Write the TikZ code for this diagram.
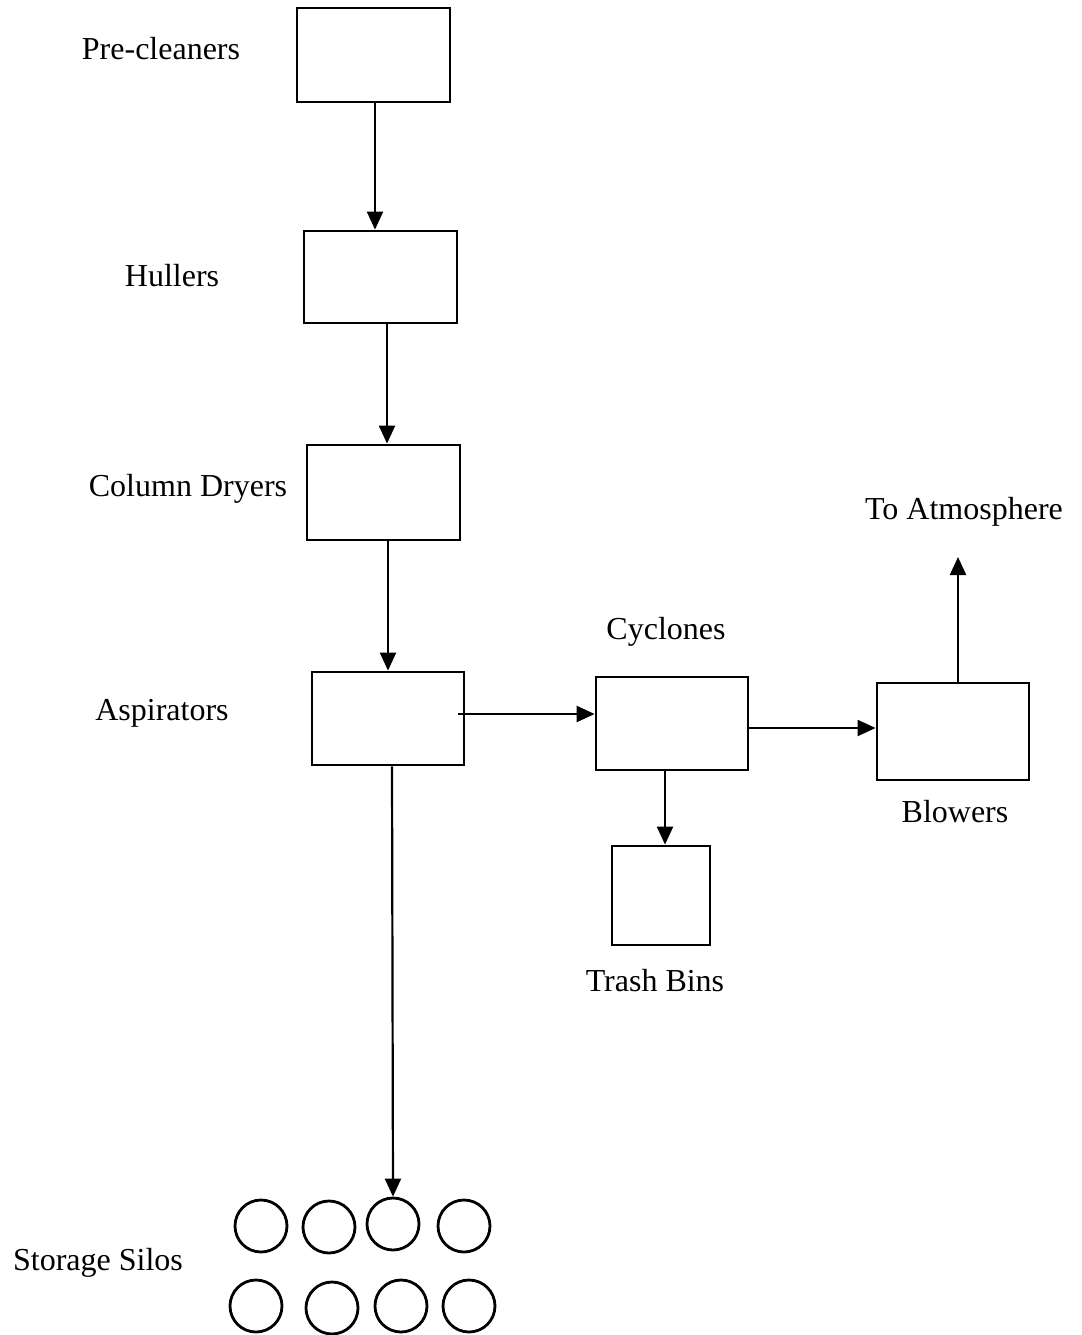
\documentclass[tikz,border=0pt]{standalone}
\usepackage{fontspec}
\setmainfont{Liberation Serif}
\usetikzlibrary{arrows.meta}
\begin{document}
\begin{tikzpicture}[x=1pt,y=-1pt,
  box/.style={draw,line width=2.8pt,inner sep=0pt},
  lab/.style={font=\fontsize{32}{35}\selectfont,inner sep=0pt},
  silo/.style={draw,circle,line width=2.8pt,minimum size=52pt,inner sep=0pt},
  flow/.style={line width=2.2pt,-{Triangle[length=18pt,width=16pt]}}]
\useasboundingbox (0,0) rectangle (1081,1335);
\fill[white] (0,0) rectangle (1081,1335);
% boxes
\node[box,minimum width=153pt,minimum height=94pt] (pre) at (373.5,55) {};
\node[box,minimum width=153pt,minimum height=92pt] (hul) at (380.5,277) {};
\node[box,minimum width=153pt,minimum height=95pt] (col) at (383.5,492.5) {};
\node[box,minimum width=152pt,minimum height=93pt] (asp) at (388,718.5) {};
\node[box,minimum width=152pt,minimum height=93pt] (cyc) at (672,723.5) {};
\node[box,minimum width=152pt,minimum height=97pt] (blo) at (953,731.5) {};
\node[box,minimum width=98pt,minimum height=99pt] (tra) at (661,895.5) {};
% silos
\node[silo] (s1) at (261,1226) {};
\node[silo] (s2) at (329,1227) {};
\node[silo] (s3) at (393,1224) {};
\node[silo] (s4) at (464,1226) {};
\node[silo] (s5) at (256,1306) {};
\node[silo] (s6) at (332,1308) {};
\node[silo] (s7) at (401,1306) {};
\node[silo] (s8) at (469,1306) {};
% labels
\node[lab] (lpre) at (161,49) {Pre-cleaners};
\node[lab] (lhul) at (172,276) {Hullers};
\node[lab] (lcol) at (188,489) {Column Dryers};
\node[lab] (lasp) at (162,713) {Aspirators};
\node[lab] (lcyc) at (666,632) {Cyclones};
\node[lab] (latm) at (964,512) {To Atmosphere};
\node[lab] (lblo) at (955,812) {Blowers};
\node[lab] (ltra) at (655,981) {Trash Bins};
\node[lab] (lsil) at (98,1263) {Storage Silos};
% connectors
\coordinate (atm) at (958,557);
\draw[flow] (pre.south -| 375,0) -- (hul.north -| 375,0);
\draw[flow] (hul.south -| 387,0) -- (col.north -| 387,0);
\draw[flow] (col.south -| 388,0) -- (asp.north -| 388,0);
\draw[flow] (458,714) -- (cyc.west |- 0,714);
\draw[flow] (cyc.east |- 0,728) -- (blo.west |- 0,728);
\draw[flow] (blo.north -| atm) -- (atm);
\draw[flow] (cyc.south -| 665,0) -- (tra.north -| 665,0);
\draw[flow] (asp.south -| 392,0) -- (s3.north);
\end{tikzpicture}
\end{document}
